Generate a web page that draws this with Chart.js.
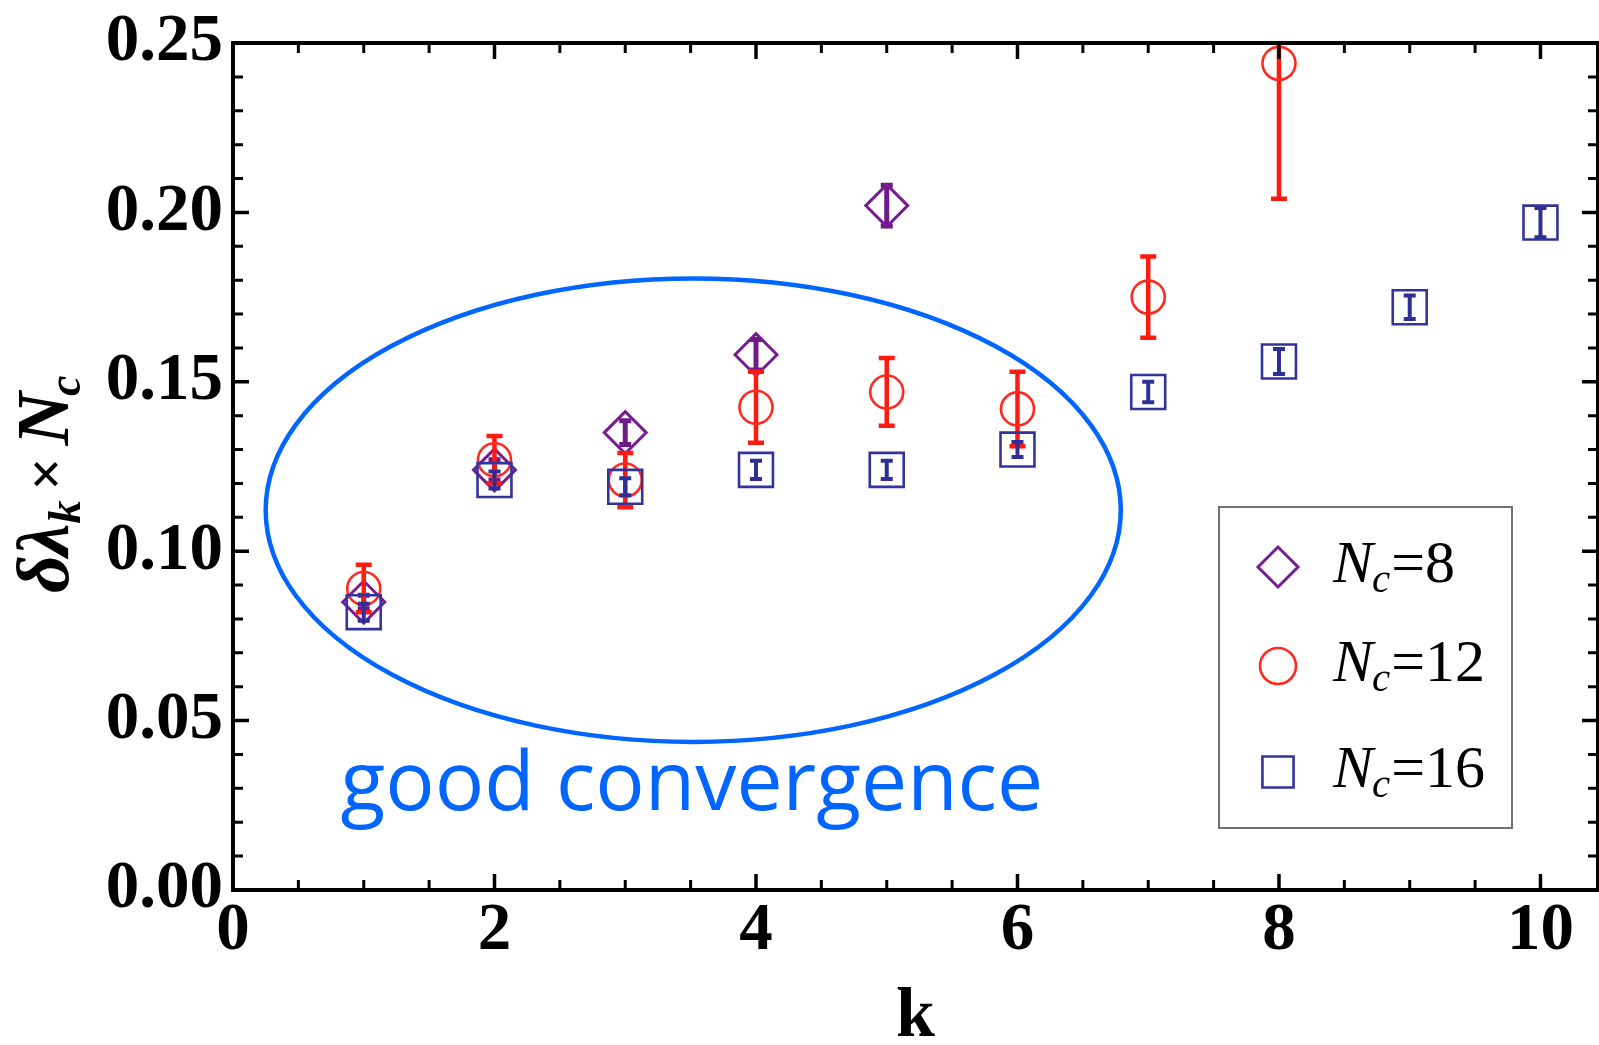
<!DOCTYPE html>
<html>
<head>
<meta charset="utf-8">
<script src="https://cdn.jsdelivr.net/npm/chart.js@4.4.0/dist/chart.umd.min.js"></script>
<style>
html,body{margin:0;padding:0;background:#fff;overflow:hidden}
#wrap{width:1599px;height:1045px;position:relative}
canvas{display:block}
</style>
</head>
<body>
<div id="wrap"><canvas id="c" width="1599" height="1045"></canvas></div>
<script>
// ---------------- data ----------------
const kNc8 = [1, 2, 3, 4, 5];
const valuesNc8 = [0.085, 0.124, 0.135, 0.158, 0.202];
const errorsNc8 = [0.002, 0.003, 0.0035, 0.0045, 0.006];

const kNc12 = [1, 2, 3, 4, 5, 6, 7, 8];
const valuesNc12 = [0.089, 0.127, 0.121, 0.1425, 0.147, 0.142, 0.175, 0.244];
const errorsNc12 = [0.007, 0.007, 0.008, 0.0105, 0.010, 0.011, 0.012, 0.040];

const kNc16 = [1, 2, 3, 4, 5, 6, 7, 8, 9, 10];
const valuesNc16 = [0.082, 0.121, 0.119, 0.124, 0.124, 0.130, 0.147, 0.156, 0.172, 0.197];
const errorsNc16 = [0.0025, 0.0025, 0.0025, 0.0027, 0.0027, 0.0022, 0.003, 0.0037, 0.0035, 0.0043];

const seriesNc = ['8', '12', '16'];
const xTickValues = [0, 2, 4, 6, 8, 10];
const yTickValues = [0, 0.05, 0.10, 0.15, 0.20, 0.25];
const xAxisTitle = 'k';
const annotationText = 'good convergence';

// ---------------- styles ----------------
const SERIF = '"Liberation Serif", "Times New Roman", serif';
const styles = [
  {color: '#761d90', bar: '#6f198a', style: 'rectRot', radius: 21, bw: 3, barW: 5, cap: 6},
  {color: '#ff2a1f', bar: '#ff1a10', style: 'circle', radius: 16.5, bw: 2.6, barW: 4.5, cap: 8},
  {color: '#33339c', bar: '#2e2e96', style: 'rect', radius: 24, bw: 2.6, barW: 4, cap: 6}
];
const errorSets = [errorsNc8, errorsNc12, errorsNc16];

function pts(ks, vs) { return ks.map((k, i) => ({x: k, y: vs[i]})); }

const errorBarPlugin = {
  id: 'errorBars',
  beforeDatasetDraw(chart, args) {
    const i = args.index, errs = errorSets[i], st = styles[i];
    const ds = chart.data.datasets[i];
    const xs = chart.scales.x, ys = chart.scales.y, ctx = chart.ctx, a = chart.chartArea;
    ctx.save();
    ctx.beginPath(); ctx.rect(a.left, a.top, a.right - a.left, a.bottom - a.top); ctx.clip();
    ctx.strokeStyle = st.bar; ctx.lineWidth = st.barW; ctx.lineCap = 'butt';
    ds.data.forEach((p, j) => {
      const px = xs.getPixelForValue(p.x);
      const t = ys.getPixelForValue(p.y + errs[j]);
      const b = ys.getPixelForValue(p.y - errs[j]);
      ctx.beginPath();
      ctx.moveTo(px, t); ctx.lineTo(px, b);
      ctx.moveTo(px - st.cap, t); ctx.lineTo(px + st.cap, t);
      ctx.moveTo(px - st.cap, b); ctx.lineTo(px + st.cap, b);
      ctx.stroke();
    });
    ctx.restore();
  }
};

const framePlugin = {
  id: 'frame',
  afterDatasetsDraw(chart) {
    const {ctx, chartArea: a} = chart;
    const xs = chart.scales.x, ys = chart.scales.y;
    ctx.save();
    // annotation ellipse and text
    const cx = xs.getPixelForValue(3.52), cy = ys.getPixelForValue(0.1121);
    const rx = xs.getPixelForValue(3.52 + 3.27) - cx;
    const ry = cy - ys.getPixelForValue(0.1121 + 0.0684);
    ctx.strokeStyle = '#0066ff'; ctx.lineWidth = 4.5;
    ctx.beginPath(); ctx.ellipse(cx, cy, rx, ry, 0, 0, Math.PI * 2); ctx.stroke();
    const tx = xs.getPixelForValue(0.822), ty = ys.getPixelForValue(0.0236);
    const tw = xs.getPixelForValue(6.2) - tx;
    ctx.font = '80px "Open Sans", sans-serif';
    const fs = 80 * tw / ctx.measureText(annotationText).width;
    ctx.font = fs.toFixed(1) + 'px "Open Sans", sans-serif';
    ctx.fillStyle = '#0066ff'; ctx.textBaseline = 'alphabetic'; ctx.textAlign = 'left';
    ctx.fillText(annotationText, tx, ty);

    // inward ticks on all four sides
    ctx.strokeStyle = '#000'; ctx.lineCap = 'butt';
    for (let i = 0; i * 0.5 <= xs.max + 1e-9; i++) {
      const v = i * 0.5, px = xs.getPixelForValue(v);
      const major = i % 4 === 0;
      const len = major ? 16 : 10;
      ctx.lineWidth = major ? 3.5 : 3;
      ctx.beginPath();
      ctx.moveTo(px, a.bottom); ctx.lineTo(px, a.bottom - len);
      ctx.moveTo(px, a.top); ctx.lineTo(px, a.top + len);
      ctx.stroke();
    }
    for (let i = 0; i <= 25; i++) {
      const py = ys.getPixelForValue(i * 0.01);
      const major = i % 5 === 0;
      const len = major ? 16 : 10;
      ctx.lineWidth = major ? 3.5 : 3;
      ctx.beginPath();
      ctx.moveTo(a.left, py); ctx.lineTo(a.left + len, py);
      ctx.moveTo(a.right, py); ctx.lineTo(a.right - len, py);
      ctx.stroke();
    }
    ctx.lineWidth = 4;
    ctx.strokeRect(a.left, a.top, a.right - a.left, a.bottom - a.top);
    ctx.restore();
  },
  afterDraw(chart) {
    const ctx = chart.ctx;
    ctx.save();
    // y axis title: δλ_k × N_c (rotated)
    ctx.translate(68, 593);
    ctx.rotate(-Math.PI / 2);
    ctx.fillStyle = '#000'; ctx.textBaseline = 'alphabetic'; ctx.textAlign = 'left';
    const big = 'italic bold 74px ' + SERIF, small = 'italic bold 46px ' + SERIF;
    let x = 0;
    ctx.font = big; ctx.fillText('δλ', x, 0); x += ctx.measureText('δλ').width;
    ctx.font = small; ctx.fillText('k', x, 12); x += ctx.measureText('k').width;
    x += 10;
    ctx.font = 'bold 58px ' + SERIF; ctx.fillText('×', x, -3); x += ctx.measureText('×').width + 12;
    ctx.font = big; ctx.fillText('N', x, 0); x += ctx.measureText('N').width - 4;
    ctx.font = small; ctx.fillText('c', x, 12);
    ctx.restore();

    // legend
    ctx.save();
    ctx.fillStyle = '#fff';
    ctx.fillRect(1219, 507, 293, 321);
    ctx.strokeStyle = '#707070'; ctx.lineWidth = 2;
    ctx.strokeRect(1219, 507, 293, 321);
    const rowY = [567, 666, 772];
    const radii = [20, 18, 22];
    styles.forEach((st, i) => {
      ctx.strokeStyle = st.color; ctx.fillStyle = 'rgba(0,0,0,0)'; ctx.lineWidth = st.bw;
      Chart.helpers.drawPoint(ctx, {pointStyle: st.style, radius: radii[i], rotation: 0, borderWidth: st.bw}, 1278, rowY[i]);
      const base = rowY[i] + 15;
      let tx = 1333;
      ctx.fillStyle = '#000'; ctx.textBaseline = 'alphabetic'; ctx.textAlign = 'left';
      ctx.font = 'italic 60px ' + SERIF; ctx.fillText('N', tx, base); tx += ctx.measureText('N').width - 1;
      ctx.font = 'italic 41px ' + SERIF; ctx.fillText('c', tx, base + 10); tx += ctx.measureText('c').width + 1;
      ctx.font = '60px ' + SERIF; ctx.fillText('=' + seriesNc[i], tx, base);
    });
    ctx.restore();
  }
};

function build() {
  const ctx = document.getElementById('c').getContext('2d');
  const dsets = [
    {label: 'Nc=' + seriesNc[0], data: pts(kNc8, valuesNc8), order: 3},
    {label: 'Nc=' + seriesNc[1], data: pts(kNc12, valuesNc12), order: 2},
    {label: 'Nc=' + seriesNc[2], data: pts(kNc16, valuesNc16), order: 1}
  ].map((d, i) => Object.assign(d, {
    pointStyle: styles[i].style,
    pointRadius: styles[i].radius,
    pointHoverRadius: styles[i].radius,
    borderColor: styles[i].color,
    pointBorderColor: styles[i].color,
    backgroundColor: 'rgba(0,0,0,0)',
    pointBackgroundColor: 'rgba(0,0,0,0)',
    pointBorderWidth: styles[i].bw,
    showLine: false
  }));

  const tickFont = {family: SERIF, weight: 'bold', size: 67, lineHeight: 1};
  new Chart(ctx, {
    type: 'scatter',
    data: {datasets: dsets},
    options: {
      responsive: false,
      animation: false,
      devicePixelRatio: 1,
      layout: {autoPadding: false, padding: {top: 43, right: 1, bottom: 0, left: 0}},
      plugins: {legend: {display: false}, tooltip: {enabled: false}},
      scales: {
        x: {
          type: 'linear', position: 'bottom', min: 0, max: 10.44,
          afterFit(s) { s.height = 155; s.paddingLeft = 0; s.paddingRight = 0; },
          grid: {display: false, drawTicks: false},
          border: {display: false},
          afterBuildTicks(s) { s.ticks = xTickValues.map(v => ({value: v})); },
          ticks: {
            padding: 8, color: '#000', font: tickFont, maxRotation: 0, autoSkip: false,
            callback: v => String(v)
          },
          title: {
            display: true, text: xAxisTitle, color: '#000',
            font: {family: SERIF, weight: 'bold', size: 70, lineHeight: 1},
            padding: {top: 0, bottom: -8}
          }
        },
        y: {
          type: 'linear', min: 0, max: 0.25,
          afterFit(s) { s.width = 233; s.paddingTop = 0; s.paddingBottom = 0; },
          grid: {display: false, drawTicks: false},
          border: {display: false},
          afterBuildTicks(s) { s.ticks = yTickValues.map(v => ({value: v})); },
          ticks: {
            padding: 10, color: '#000', font: tickFont, autoSkip: false,
            callback: v => Number(v).toFixed(2)
          }
        }
      }
    },
    plugins: [errorBarPlugin, framePlugin]
  });
}

const fontsToLoad = [
  'bold 67px "Liberation Serif"', 'italic bold 74px "Liberation Serif"',
  'italic 60px "Liberation Serif"', '60px "Liberation Serif"', '80px "Open Sans"'
];
Promise.all(fontsToLoad.map(f => document.fonts.load(f))).then(build, build);
</script>
</body>
</html>
